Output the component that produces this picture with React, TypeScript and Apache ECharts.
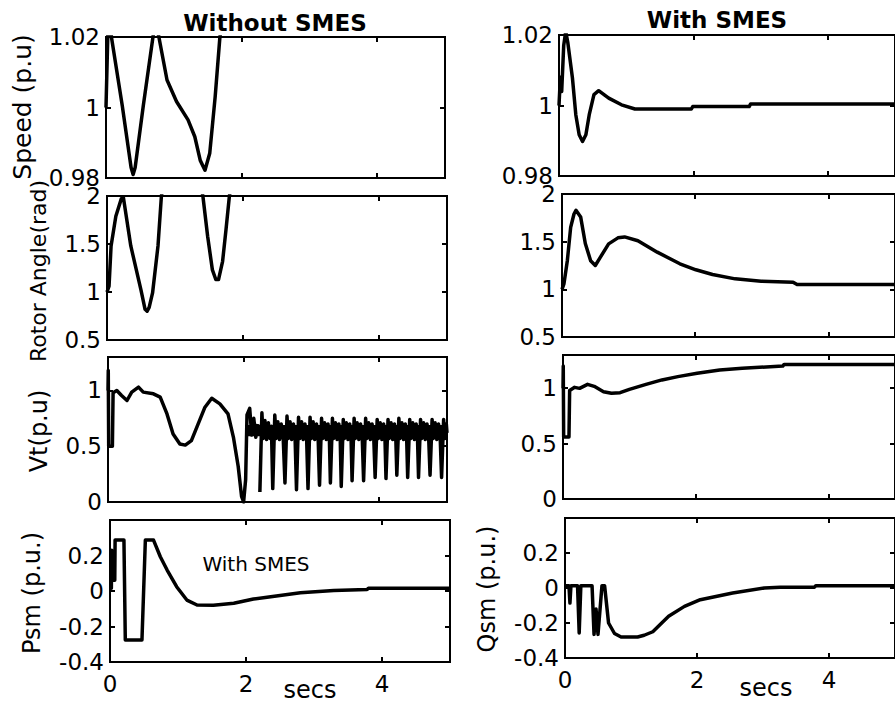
import React, { useEffect, useRef } from "react";
import * as echarts from "echarts";

// ---------- data (time in secs, value) ----------
const timeRange = [0, 5, 2]; // min, max, tick step
const columnTitles = ["Without SMES", "With SMES"];
const yAxisNames = ["Speed (p.u)", "Rotor Angle(rad)", "Vt(p.u)", "Psm (p.u.)", "Qsm (p.u.)"];
const annotationText = "With SMES";
const xAxisName = "secs";

const speedRange = [0.98, 1.02, 0.02];
const angleRange = [0.5, 2, 0.5];
const vtRange = [0, 1.3, 0.5];
const powerRange = [-0.4, 0.4, 0.2];

// Without SMES
const woSpeed = [
  [0, 1.0], [0.01, 1.0], [0.03, 1.023], [0.07, 1.023], [0.08, 1.02], [0.24, 1.0005], [0.37, 0.983],
  [0.4, 0.981], [0.43, 0.983], [0.55, 1.0005], [0.7, 1.021], [0.74, 1.024], [0.78, 1.02], [0.9, 1.0078],
  [1.04, 1.0017], [1.21, 0.9965], [1.31, 0.9917], [1.39, 0.985], [1.46, 0.9822], [1.53, 0.987],
  [1.61, 1.003], [1.68, 1.02], [1.75, 1.028], [1.85, 1.04],
];
const woAngle = [
  [0, 1.0], [0.03, 1.06], [0.06, 1.48], [0.13, 1.79], [0.21, 1.97], [0.24, 1.99], [0.35, 1.48],
  [0.5, 1.02], [0.56, 0.82], [0.59, 0.8], [0.62, 0.84], [0.67, 0.99], [0.75, 1.48], [0.8, 2.0],
  [0.9, 2.4], [1.1, 2.6], [1.3, 2.4], [1.41, 2.0], [1.48, 1.58], [1.55, 1.23], [1.6, 1.13],
  [1.64, 1.13], [1.7, 1.32], [1.75, 1.65], [1.8, 2.0], [1.9, 2.4],
];
const woVtTransient = [
  [0, 1.0], [0.004, 1.18], [0.01, 0.5], [0.065, 0.5], [0.075, 0.98], [0.13, 1.0], [0.2, 0.955],
  [0.28, 0.91], [0.35, 0.985], [0.45, 1.03], [0.52, 0.985], [0.67, 0.97], [0.77, 0.94],
  [0.87, 0.79], [0.96, 0.61], [1.06, 0.52], [1.14, 0.51], [1.23, 0.55], [1.33, 0.7], [1.43, 0.85],
  [1.53, 0.93], [1.65, 0.88], [1.77, 0.79], [1.85, 0.58], [1.92, 0.32], [1.97, 0.05], [2.0, 0.0],
  [2.03, 0.2], [2.05, 0.78], [2.09, 0.84], [2.12, 0.6], [2.15, 0.75], [2.18, 0.58], [2.21, 0.7],
];
const woVtOscillation = [
  [2.24, 0.09], [2.27, 0.8], [2.29, 0.57], [2.315, 0.73], [2.34, 0.56], [2.365, 0.71], [2.39, 0.57], [2.41, 0.68],
  [2.43, 0.12], [2.46, 0.78], [2.48, 0.57], [2.505, 0.72], [2.53, 0.56], [2.555, 0.7], [2.585, 0.56],
  [2.61, 0.17], [2.64, 0.77], [2.66, 0.57], [2.685, 0.72], [2.71, 0.56], [2.735, 0.7], [2.76, 0.56],
  [2.78, 0.11], [2.81, 0.76], [2.83, 0.57], [2.855, 0.72], [2.88, 0.56], [2.905, 0.7], [2.93, 0.56],
  [2.95, 0.12], [2.98, 0.76], [3.0, 0.57], [3.025, 0.72], [3.05, 0.56], [3.075, 0.7], [3.1, 0.56],
  [3.12, 0.15], [3.15, 0.75], [3.17, 0.57], [3.195, 0.71], [3.22, 0.56], [3.245, 0.7], [3.265, 0.57],
  [3.28, 0.17], [3.31, 0.75], [3.33, 0.57], [3.355, 0.71], [3.38, 0.56], [3.405, 0.7], [3.425, 0.57],
  [3.44, 0.14], [3.47, 0.74], [3.49, 0.57], [3.515, 0.71], [3.54, 0.56], [3.565, 0.7], [3.585, 0.57],
  [3.6, 0.19], [3.63, 0.75], [3.65, 0.57], [3.675, 0.71], [3.7, 0.56], [3.725, 0.7], [3.75, 0.57],
  [3.77, 0.19], [3.8, 0.75], [3.82, 0.57], [3.845, 0.71], [3.87, 0.56], [3.895, 0.7], [3.92, 0.57],
  [3.94, 0.22], [3.97, 0.74], [3.99, 0.57], [4.015, 0.71], [4.04, 0.56], [4.065, 0.7], [4.085, 0.57],
  [4.1, 0.21], [4.13, 0.74], [4.15, 0.57], [4.175, 0.71], [4.2, 0.56], [4.225, 0.7], [4.245, 0.57],
  [4.26, 0.24], [4.29, 0.75], [4.31, 0.57], [4.335, 0.71], [4.36, 0.56], [4.385, 0.7], [4.405, 0.57],
  [4.42, 0.22], [4.45, 0.74], [4.47, 0.57], [4.495, 0.71], [4.52, 0.56], [4.545, 0.7], [4.565, 0.57],
  [4.58, 0.22], [4.61, 0.74], [4.63, 0.57], [4.655, 0.71], [4.68, 0.56], [4.705, 0.7], [4.73, 0.57],
  [4.75, 0.24], [4.78, 0.74], [4.8, 0.57], [4.825, 0.71], [4.85, 0.56], [4.875, 0.7], [4.9, 0.57],
  [4.92, 0.22], [4.95, 0.74], [4.97, 0.57], [4.99, 0.7], [5.0, 0.62],
];
// dense, unresolved part of the oscillation: [t start, t end, low, high]
const woVtBand = [2.06, 5, 0.59, 0.69];
const psm = [
  [0, 0.015], [0.02, 0.015], [0.025, 0.23], [0.035, 0.06], [0.07, 0.06], [0.075, 0.287],
  [0.205, 0.287], [0.225, -0.276], [0.47, -0.276], [0.52, 0.287], [0.64, 0.287], [0.74, 0.193],
  [0.84, 0.118], [0.98, 0.024], [1.13, -0.051], [1.28, -0.079], [1.52, -0.08], [1.82, -0.069],
  [2.11, -0.045], [2.31, -0.035], [2.8, -0.01], [3.29, 0.003], [3.78, 0.008], [3.8, 0.015], [5, 0.015],
];

// With SMES
const wSpeed = [
  [0, 1.0], [0.02, 1.008], [0.04, 1.004], [0.07, 1.017], [0.1, 1.021], [0.13, 1.018], [0.2, 1.0078],
  [0.25, 0.9974], [0.3, 0.9917], [0.35, 0.9898], [0.4, 0.9917], [0.45, 0.9974], [0.52, 1.0031],
  [0.59, 1.0042], [0.74, 1.0021], [0.93, 1.0002], [1.13, 0.999], [1.97, 0.999], [1.99, 0.9997],
  [2.83, 0.9997], [2.85, 1.0004], [5, 1.0004],
];
const wAngle = [
  [0, 1.0], [0.03, 1.06], [0.08, 1.3], [0.13, 1.65], [0.18, 1.79], [0.21, 1.83], [0.28, 1.76],
  [0.35, 1.48], [0.43, 1.3], [0.5, 1.25], [0.57, 1.33], [0.7, 1.477], [0.84, 1.54], [0.94, 1.55],
  [1.14, 1.51], [1.43, 1.39], [1.77, 1.268], [2.01, 1.205], [2.26, 1.156], [2.6, 1.11],
  [2.99, 1.086], [3.47, 1.075], [3.53, 1.05], [5, 1.05],
];
const wVt = [
  [0, 1.0], [0.004, 1.2], [0.01, 0.56], [0.09, 0.56], [0.1, 0.98], [0.175, 1.008], [0.25, 0.999],
  [0.37, 1.035], [0.47, 1.017], [0.61, 0.969], [0.73, 0.954], [0.86, 0.96], [1.0, 0.99],
  [1.25, 1.035], [1.49, 1.075], [1.73, 1.105], [2.02, 1.135], [2.36, 1.165], [2.7, 1.18],
  [3.31, 1.2], [3.33, 1.215], [5, 1.215],
];
const wQsm = [
  [0, 0.013], [0.06, 0.013], [0.075, -0.086], [0.09, 0.013], [0.19, 0.013], [0.215, -0.257],
  [0.24, 0.013], [0.41, 0.013], [0.44, -0.265], [0.47, -0.12], [0.5, -0.265], [0.56, 0.013],
  [0.6, 0.013], [0.66, -0.2], [0.75, -0.26], [0.85, -0.28], [1.1, -0.28], [1.2, -0.27],
  [1.33, -0.25], [1.57, -0.162], [1.81, -0.105], [2.05, -0.067], [2.54, -0.029], [3.02, 0.0],
  [3.26, 0.004], [3.78, 0.005], [3.8, 0.013], [5, 0.013],
];

// ---------- layout ----------
const FONT = "DejaVu Sans";
const panels = [
  { rect: [106, 37, 339, 141], range: speedRange, data: [woSpeed], bottom: false, hideMax: false },
  { rect: [107, 196, 340, 144], range: angleRange, data: [woAngle], bottom: false, hideMax: false },
  { rect: [108, 357, 339, 145], range: vtRange, data: [woVtTransient, woVtOscillation], band: woVtBand, bottom: false, hideMax: true },
  { rect: [110, 520, 340, 142], range: powerRange, data: [psm], bottom: true, hideMax: true },
  { rect: [559, 35, 343, 141], range: speedRange, data: [wSpeed], bottom: false, hideMax: false },
  { rect: [562, 194, 343, 143], range: angleRange, data: [wAngle], bottom: false, hideMax: false },
  { rect: [563, 355, 343, 144], range: vtRange, data: [wVt], bottom: false, hideMax: true },
  { rect: [565, 518, 343, 140], range: powerRange, data: [wQsm], bottom: true, hideMax: true },
];

function buildOption() {
  const grid: any[] = [];
  const xAxis: any[] = [];
  const yAxis: any[] = [];
  const series: any[] = [];
  const tickStyle = { show: true, inside: true, length: 5, lineStyle: { color: "#000", width: 2 } };
  const labelStyle = { color: "#000", fontFamily: FONT, fontSize: 23 };
  const noLine = { show: false, onZero: false };

  panels.forEach((p: any, i) => {
    const [left, top, width, height] = p.rect;
    grid.push({ left, top, width, height, show: true, borderColor: "#000", borderWidth: 2, backgroundColor: "transparent" });
    xAxis.push({
      type: "value", gridIndex: i, min: timeRange[0], max: timeRange[1], interval: timeRange[2],
      position: "bottom", axisLine: noLine, splitLine: { show: false }, axisTick: tickStyle,
      axisLabel: { ...labelStyle, show: p.bottom, showMaxLabel: false, margin: 10 },
    });
    xAxis.push({
      type: "value", gridIndex: i, min: timeRange[0], max: timeRange[1], interval: timeRange[2],
      position: "top", axisLine: noLine, splitLine: { show: false }, axisTick: tickStyle,
      axisLabel: { show: false },
    });
    yAxis.push({
      type: "value", gridIndex: i, min: p.range[0], max: p.range[1], interval: p.range[2],
      position: "left", axisLine: noLine, splitLine: { show: false }, axisTick: tickStyle,
      axisLabel: { ...labelStyle, showMaxLabel: !p.hideMax, margin: 6 },
    });
    yAxis.push({
      type: "value", gridIndex: i, min: p.range[0], max: p.range[1], interval: p.range[2],
      position: "right", axisLine: noLine, splitLine: { show: false }, axisTick: tickStyle,
      axisLabel: { show: false },
    });
    p.data.forEach((d: number[][], k: number) => {
      const s: any = {
        type: "line", xAxisIndex: 2 * i, yAxisIndex: 2 * i, data: d, showSymbol: false, symbol: "none",
        clip: true, lineStyle: { color: "#000", width: 3.5, join: "round" }, silent: true,
      };
      if (p.band && k === p.data.length - 1) {
        s.markArea = {
          silent: true,
          itemStyle: { color: "#000", opacity: 1 },
          data: [[{ coord: [p.band[0], p.band[2]] }, { coord: [p.band[1], p.band[3]] }]],
        };
      }
      series.push(s);
    });
  });

  const txt = (text: string, x: number, y: number, size: number, opts: any = {}) => ({
    type: "text", x, y, rotation: opts.rotation || 0, silent: true,
    style: {
      text, fill: "#000", fontFamily: FONT, fontSize: size, fontWeight: opts.bold ? "bold" : "normal",
      align: "center", verticalAlign: "middle", textAlign: "center", textVerticalAlign: "middle",
    },
  });

  const graphic = [
    txt(columnTitles[0], 275, 23, 23, { bold: true }),
    txt(columnTitles[1], 717, 20, 23, { bold: true }),
    txt(yAxisNames[0], 22, 107, 25, { rotation: Math.PI / 2 }),
    txt(yAxisNames[1], 38, 271, 22, { rotation: Math.PI / 2 }),
    txt(yAxisNames[2], 39, 431, 24, { rotation: Math.PI / 2 }),
    txt(yAxisNames[3], 32, 593, 24, { rotation: Math.PI / 2 }),
    txt(yAxisNames[4], 487, 589, 24, { rotation: Math.PI / 2 }),
    txt(annotationText, 256, 564, 20),
    txt(xAxisName, 310, 690, 24),
    txt(xAxisName, 766, 688, 24),
  ];

  return { animation: false, backgroundColor: "#fff", grid, xAxis, yAxis, series, graphic };
}

export default function App() {
  const ref = useRef<HTMLDivElement>(null);
  useEffect(() => {
    if (!ref.current) return;
    const chart = echarts.init(ref.current, null, { renderer: "svg" });
    chart.setOption(buildOption());
    return () => chart.dispose();
  }, []);
  return (
    <div
      ref={ref}
      style={{ position: "absolute", left: 0, top: 0, width: 895, height: 704, background: "#fff", overflow: "hidden" }}
    />
  );
}
